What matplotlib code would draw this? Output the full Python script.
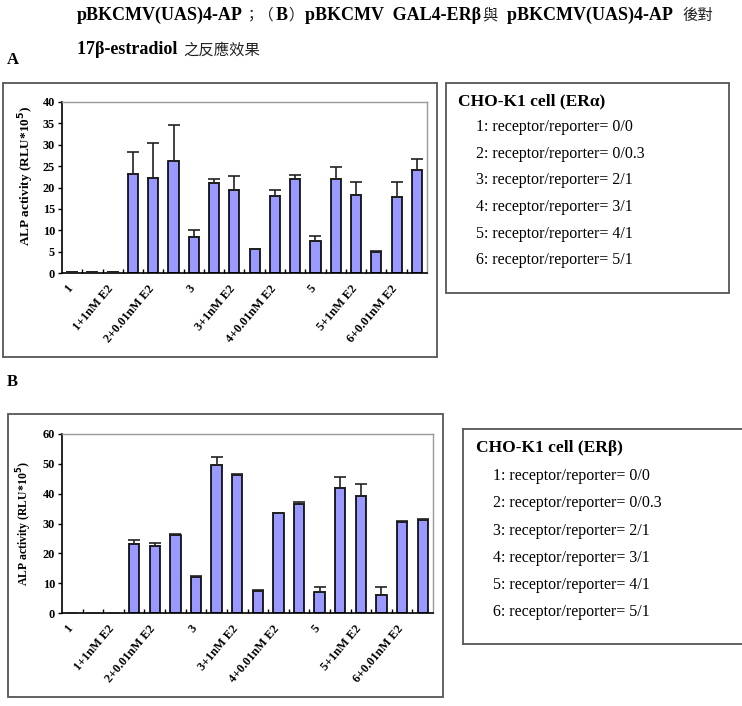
import matplotlib
matplotlib.use("Agg")
import matplotlib.pyplot as plt
from matplotlib.patches import Rectangle
import numpy as np

W, H = 742, 706

categories = ["1", "1+0.01nM E2", "1+1nM E2", "2", "2+0.01nM E2", "2+1nM E2",
              "3", "3+0.01nM E2", "3+1nM E2", "4", "4+0.01nM E2", "4+1nM E2",
              "5", "5+0.01nM E2", "5+1nM E2", "6", "6+0.01nM E2", "6+1nM E2"]

vals_a = [0.2, 0.2, 0.2, 23.1, 22.3, 26.2, 8.5, 21.1, 19.3, 5.6, 18.1, 22.1,
          7.4, 22.1, 18.2, 5.0, 17.8, 24.1]
err_a = [0.0, 0.0, 0.0, 5.2, 8.0, 8.4, 1.6, 1.0, 3.3, 0.1, 1.3, 0.8,
         1.2, 2.8, 3.2, 0.1, 3.4, 2.5]

vals_b = [0.1, 0.1, 0.1, 23.1, 22.5, 26.2, 12.2, 49.5, 46.4, 7.5, 33.5, 36.4,
          7.2, 42.0, 39.3, 6.1, 30.4, 31.2]
err_b = [0.0, 0.0, 0.0, 1.3, 1.1, 0.2, 0.1, 2.8, 0.2, 0.1, 0.1, 0.8,
         1.4, 3.5, 4.1, 2.7, 0.6, 0.2]

legend_items = ["1: receptor/reporter= 0/0", "2: receptor/reporter= 0/0.3",
                "3: receptor/reporter= 2/1", "4: receptor/reporter= 3/1",
                "5: receptor/reporter= 4/1", "6: receptor/reporter= 5/1"]

header_line1 = [("pBKCMV(UAS)4-AP", "lat"), ("；（", "cjk"), ("B", "lat"), ("）", "cjk"),
                ("pBKCMV  GAL4-ERβ", "lat"), ("與", "cjk"), ("  pBKCMV(UAS)4-AP  ", "lat"),
                ("後對", "cjk")]
header_line2 = [("17β-estradiol ", "lat"), ("之反應效果", "cjk")]

SERIF = "Liberation Serif"
CJK = "Noto Sans CJK TC"

fig = plt.figure(figsize=(W / 100, H / 100), dpi=100)
renderer = fig.canvas.get_renderer()


def fx(x):
    return x / W


def fy(y):
    return 1 - y / H


def add_box(x0, y0, x1, y1, right=True):
    if right:
        fig.patches.append(Rectangle((fx(x0), fy(y1)), fx(x1 - x0), (y1 - y0) / H,
                                     transform=fig.transFigure, fill=False,
                                     edgecolor="#555555", lw=1.3))
    else:
        for xs, ys in [((x0, x1), (y0, y0)), ((x0, x0), (y0, y1)), ((x0, x1), (y1, y1))]:
            fig.add_artist(plt.Line2D([fx(xs[0]), fx(xs[1])], [fy(ys[0]), fy(ys[1])],
                                      transform=fig.transFigure, color="#555555", lw=1.3))


def draw_pieces(pieces, x, y, size):
    for txt, kind in pieces:
        if kind == "lat":
            t = fig.text(fx(x), fy(y), txt, family=SERIF, fontweight="bold",
                         fontsize=size, va="center", ha="left")
        else:
            t = fig.text(fx(x), fy(y), txt, family=[CJK, SERIF], fontweight="normal",
                         fontsize=size * 0.85, va="center", ha="left", color="#222222")
        bb = t.get_window_extent(renderer=renderer)
        x += bb.width + 1


def make_chart(ax_rect, vals, errs, ymax, ystep, ylab_size):
    x0, y0, x1, y1 = ax_rect
    ax = fig.add_axes([fx(x0), fy(y1), fx(x1 - x0), (y1 - y0) / H])
    x = np.arange(len(vals))
    ax.bar(x, vals, width=0.5, color="#9999FF", edgecolor="black", lw=1.2, zorder=2)
    ax.errorbar(x, vals, yerr=[np.zeros(len(errs)), errs], fmt="none",
                ecolor="#222222", elinewidth=1.2, capsize=4, capthick=1.2, zorder=3)
    ax.set_xlim(-0.5, len(vals) - 0.5)
    ax.set_ylim(0, ymax)
    ax.set_yticks(np.arange(0, ymax + 1, ystep))
    ax.set_yticklabels([str(v) for v in np.arange(0, ymax + 1, ystep)],
                       fontfamily=SERIF, fontweight="bold", fontsize=8.8)
    ax.tick_params(axis="y", direction="out", length=3, width=1, pad=2)
    # category labels: every other category, set slightly left of the bar
    ax.set_xticks(x[::2] - 0.28)
    ax.set_xticklabels(categories[::2], rotation=50, ha="right", rotation_mode="anchor",
                       fontfamily=SERIF, fontweight="bold", fontsize=8.8)
    ax.tick_params(axis="x", length=0, pad=7)
    ax.set_xticks(np.arange(0.5, len(vals) - 1, 1), minor=True)
    ax.tick_params(axis="x", which="minor", direction="in", length=3, width=1)
    for s in ["top", "right"]:
        ax.spines[s].set_color("#999999")
        ax.spines[s].set_linewidth(1)
    for s in ["left", "bottom"]:
        ax.spines[s].set_color("black")
        ax.spines[s].set_linewidth(1.2)
    ax.set_ylabel(r"ALP activity (RLU*10$^{\mathbf{5}}$)", fontfamily=SERIF,
                  fontweight="bold", fontsize=ylab_size)
    return ax


# Header text
draw_pieces(header_line1, 77, 15, 13)
draw_pieces(header_line2, 77, 50, 13)
fig.text(fx(7), fy(60), "A", family=SERIF, fontweight="bold", fontsize=12, va="center")
fig.text(fx(7), fy(382), "B", family=SERIF, fontweight="bold", fontsize=12, va="center")

# Chart A
add_box(3, 83, 437, 357)
ax_a = make_chart((62, 102, 427, 273), vals_a, err_a, 40, 5, 9.5)
ax_a.yaxis.set_label_coords(-0.07, 0.57)
add_box(446, 83, 729, 293)
fig.text(fx(458), fy(101), "CHO-K1 cell (ERα)", family=SERIF, fontweight="bold",
         fontsize=12.5, va="center")
for i, t in enumerate(legend_items):
    fig.text(fx(476), fy(127 + i * 26.7), t, family=SERIF, fontsize=11.5, va="center")

# Chart B
add_box(8, 414, 443, 697)
ax_b = make_chart((62, 434, 433, 613), vals_b, err_b, 60, 10, 8.5)
ax_b.yaxis.set_label_coords(-0.075, 0.5)
add_box(463, 429, 760, 644, right=False)
fig.text(fx(476), fy(448), "CHO-K1 cell (ERβ)", family=SERIF, fontweight="bold",
         fontsize=12.5, va="center")
for i, t in enumerate(legend_items):
    fig.text(fx(493), fy(476 + i * 27.3), t, family=SERIF, fontsize=11.5, va="center")

fig.savefig("out.png", dpi=100)
